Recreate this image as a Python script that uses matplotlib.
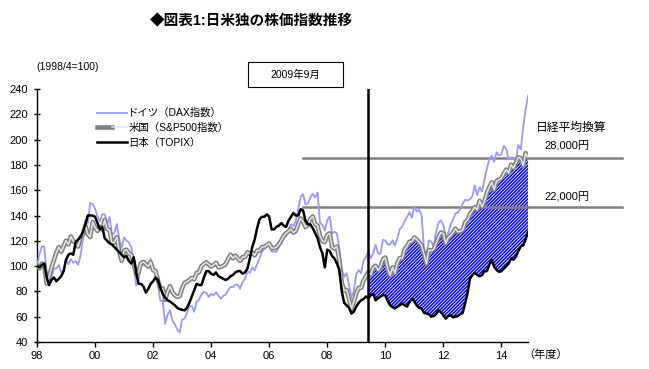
import numpy as np
import matplotlib
matplotlib.use('Agg')
import matplotlib.pyplot as plt
from matplotlib.lines import Line2D
from matplotlib.legend_handler import HandlerTuple
from matplotlib.patches import Rectangle

plt.rcParams['font.family'] = ['Liberation Sans', 'Noto Sans CJK JP']
plt.rcParams['hatch.linewidth'] = 1.1

# monthly index values, 1998/4 = 100, from Apr 1998 to Mar 2015 (one row per fiscal year)
dax = [
    100.0, 109.5, 115.6, 115.4, 94.8, 87.7, 91.6, 98.2, 98.1, 101.0, 95.3, 95.8,
    105.7, 101.5, 105.5, 102.6, 103.9, 101.0, 108.3, 122.0, 136.4, 134.0, 149.9, 149.0,
    145.4, 139.4, 135.3, 141.0, 141.0, 133.3, 138.8, 124.9, 126.2, 133.3, 121.7, 114.3,
    122.8, 120.1, 118.8, 114.9, 101.7, 84.5, 89.4, 100.5, 101.2, 100.2, 98.8, 105.8,
    98.8, 94.5, 85.9, 72.5, 72.8, 54.3, 61.8, 65.1, 56.7, 53.9, 49.9, 47.5,
    57.7, 58.5, 63.2, 68.4, 68.3, 63.9, 71.7, 73.5, 77.7, 79.6, 78.8, 75.6,
    78.1, 76.9, 79.5, 76.4, 74.2, 76.3, 77.6, 80.9, 83.5, 83.4, 85.3, 85.3,
    82.1, 87.5, 89.9, 95.8, 94.7, 98.9, 96.6, 101.8, 106.0, 111.3, 113.6, 117.1,
    117.8, 111.6, 111.4, 111.4, 114.9, 117.7, 122.9, 123.7, 129.4, 133.1, 131.7, 135.6,
    145.3, 154.6, 157.0, 148.7, 149.8, 154.2, 157.2, 154.3, 158.2, 134.4, 132.3, 128.1,
    136.3, 139.2, 125.8, 127.1, 125.9, 114.3, 97.8, 91.5, 94.3, 85.1, 75.4, 80.1,
    93.5, 96.9, 94.3, 104.5, 107.0, 111.3, 106.2, 110.3, 116.8, 110.0, 109.8, 120.7,
    120.3, 116.9, 117.0, 120.5, 116.2, 122.1, 129.4, 131.1, 135.6, 138.8, 142.6, 138.1,
    147.3, 143.0, 144.6, 140.4, 113.4, 107.9, 120.4, 119.4, 115.6, 126.6, 134.4, 136.2,
    132.6, 122.8, 125.8, 132.8, 136.7, 141.5, 142.4, 145.2, 149.3, 152.5, 151.8, 152.8,
    155.2, 163.7, 156.1, 162.3, 158.9, 168.5, 177.1, 184.4, 187.3, 182.5, 190.0, 187.4,
    188.3, 195.0, 192.8, 184.5, 185.7, 185.8, 182.9, 195.7, 192.3, 209.7, 223.6, 234.6,
]

sp500 = [
    100.0, 98.1, 102.0, 100.8, 86.1, 91.5, 98.9, 104.7, 110.6, 115.1, 111.4, 115.7,
    120.1, 117.1, 123.5, 119.6, 118.8, 115.4, 122.6, 124.9, 132.1, 125.4, 122.9, 134.8,
    130.6, 127.8, 130.9, 128.7, 136.5, 129.3, 128.5, 118.3, 118.7, 122.9, 111.5, 104.3,
    112.3, 113.0, 110.1, 108.9, 102.0, 93.6, 95.3, 102.4, 103.3, 101.6, 99.6, 103.2,
    96.8, 96.0, 89.0, 82.0, 82.4, 73.3, 79.7, 84.2, 79.2, 77.0, 75.6, 76.3,
    82.5, 86.7, 87.7, 89.0, 90.7, 89.6, 94.5, 95.2, 100.0, 101.7, 103.0, 101.3,
    99.6, 100.8, 102.6, 99.1, 99.3, 100.3, 101.6, 105.6, 109.0, 106.2, 108.3, 106.2,
    104.1, 107.2, 107.1, 111.0, 109.7, 110.5, 108.5, 112.3, 112.2, 115.1, 115.2, 116.5,
    117.9, 114.2, 114.2, 114.9, 117.3, 120.2, 123.9, 126.0, 127.5, 129.3, 126.5, 127.8,
    133.3, 137.7, 135.2, 130.9, 132.6, 137.3, 139.3, 133.2, 132.0, 124.0, 119.7, 119.0,
    124.7, 125.9, 115.1, 113.9, 115.4, 104.8, 87.1, 80.6, 81.2, 74.3, 66.1, 71.8,
    78.5, 82.7, 82.7, 88.8, 91.8, 95.1, 93.2, 98.6, 100.3, 96.6, 99.3, 105.1,
    106.8, 97.9, 92.7, 99.1, 94.3, 102.6, 106.4, 106.2, 113.2, 115.7, 119.3, 119.3,
    122.7, 121.0, 118.8, 116.2, 109.6, 101.7, 112.7, 112.2, 113.2, 118.0, 122.9, 126.6,
    125.7, 117.8, 122.5, 124.0, 126.6, 129.6, 127.0, 127.4, 128.3, 134.7, 136.3, 141.1,
    143.7, 146.7, 144.5, 151.6, 146.9, 151.3, 158.0, 162.4, 166.2, 160.4, 167.2, 168.4,
    169.5, 173.1, 176.3, 173.7, 180.2, 177.4, 181.5, 186.0, 185.2, 179.4, 189.3, 186.0,
]

topix = [
    100, 99, 101, 102, 91, 85, 89, 91, 88, 90, 92, 96,
    105, 109, 110, 109, 119, 121, 123, 127, 133, 140, 140, 140,
    139, 134, 129, 131, 122, 120, 118, 117, 115, 113, 111, 109,
    107, 108, 104, 102, 107, 95, 86, 86, 84, 79, 82, 86,
    88, 91, 89, 83, 78, 75, 73, 72, 70.5, 69, 67, 66,
    65.5, 65, 67, 71, 76, 81, 86, 85, 85, 91, 96, 96,
    94, 93, 95, 92, 91, 90, 89, 90, 92, 93, 95, 96,
    96, 94, 95, 98, 106, 115, 121, 130, 137, 139, 139, 141,
    139, 129, 129, 131, 132, 134, 132, 131, 136, 139, 142, 140,
    140, 145, 144, 136, 133, 133, 130, 126, 122, 115, 110, 99,
    113, 112, 108, 106, 102, 97, 80, 71, 69, 67, 62.5, 64,
    68, 71, 73, 74, 76, 74.5, 77, 78, 73, 74.5, 76, 77,
    77, 72.5, 69, 67.5, 66.5, 68, 69, 70.5, 69, 68, 71.5, 74.5,
    72, 69, 67, 66.5, 63, 62.5, 62, 60, 60.5, 62, 65, 63.5,
    61, 58.5, 60.5, 61, 59.5, 60, 60.5, 62, 63, 70.5, 78.5, 90,
    93, 94.5, 93, 92, 93, 96, 96, 101, 105, 99.5, 97, 95.5,
    96, 98, 100, 102, 106, 105, 107.5, 112, 115.5, 116.5, 121, 127,
]

labels = ['ドイツ（DAX指数）', '米国（S&P500指数）', '日本（TOPIX）']
mark_month = 137          # 2009年9月 (months after 1998/4)
nikkei_labels = ['28,000円', '22,000円']
nikkei_levels = [185.7, 146.5]
year_ticks = list(range(1998, 2015, 2))
year_labels = ['98', '00', '02', '04', '06', '08', '10', '12', '14']

x = 1998 + np.arange(len(topix)) / 12
topix_arr = np.array(topix)
sp_arr = np.array(sp500)

fig = plt.figure(figsize=(6.49, 3.69), dpi=100)
ax = fig.add_axes([37 / 649, 1 - 342 / 369, 491 / 649, 253 / 369])

# hatched gap between US and Japan after Sep 2009
sel = np.arange(len(topix)) >= mark_month
ax.fill_between(x[sel], topix_arr[sel], sp_arr[sel], facecolor='white',
                edgecolor='#0000ff', hatch='//////////', linewidth=0, zorder=1)

ax.plot(x, dax, color='#9999ff', lw=1.3, zorder=3)
ax.plot(x, sp500, color='#808080', lw=3.3, zorder=4)
ax.plot(x, sp500, color='#e6e6e6', lw=1.1, zorder=5)
ax.plot(x, topix, color='black', lw=1.8, zorder=6)

ax.axvline(x[mark_month], color='black', lw=1.8, zorder=7)

for lev in nikkei_levels:
    ax.plot([2007.15, 2018.15], [lev, lev], color='#808080', lw=1.8,
            clip_on=False, zorder=2)

ax.set_xlim(1998, x[-1])
ax.set_ylim(40, 240)
ax.set_yticks(range(40, 241, 20))
ax.set_xticks(year_ticks)
ax.set_xticklabels(year_labels)
ax.tick_params(axis='y', direction='inout', length=5, width=1, labelsize=8, pad=4)
ax.tick_params(axis='x', direction='out', length=3.5, width=1, labelsize=8, pad=3)
for s in ['top', 'right']:
    ax.spines[s].set_visible(False)
for s in ['left', 'bottom']:
    ax.spines[s].set_linewidth(1.0)

h_dax = Line2D([], [], color='#9999ff', lw=1.3)
h_sp = (Line2D([], [], color='#808080', lw=3.3), Line2D([], [], color='#e6e6e6', lw=1.1))
h_tp = Line2D([], [], color='black', lw=1.8)
fig.legend([h_dax, h_sp, h_tp], labels, handler_map={tuple: HandlerTuple(ndivide=None)},
           loc='upper left', bbox_to_anchor=(97 / 649, 1 - 108 / 369), frameon=False,
           fontsize=7.5, handlelength=2.9, handletextpad=0.1, borderpad=0,
           borderaxespad=0, labelspacing=0.45)

fig.text(251 / 649, 1 - 21 / 369, '◆図表1:日米独の株価指数推移', ha='center', va='center',
         fontsize=10.5, fontweight='bold')
fig.text(36 / 649, 1 - 67 / 369, '(1998/4=100)', ha='left', va='center', fontsize=7.5)

fig.add_artist(Rectangle((248 / 649, 1 - 87 / 369), 95 / 649, 25 / 369,
                         transform=fig.transFigure, facecolor='white',
                         edgecolor='black', lw=0.8))
fig.text(295.5 / 649, 1 - 74.5 / 369, '2009年9月', ha='center', va='center', fontsize=7.5)

fig.text(536 / 649, 1 - 128 / 369, '日経平均換算', ha='left', va='center', fontsize=8.5)
fig.text(544 / 649, 1 - 146 / 369, nikkei_labels[0], ha='left', va='center', fontsize=8)
fig.text(544 / 649, 1 - 197 / 369, nikkei_labels[1], ha='left', va='center', fontsize=8)
fig.text(523 / 649, 1 - 355 / 369, '（年度）', ha='left', va='center', fontsize=8)

fig.savefig('out.png', dpi=100)
